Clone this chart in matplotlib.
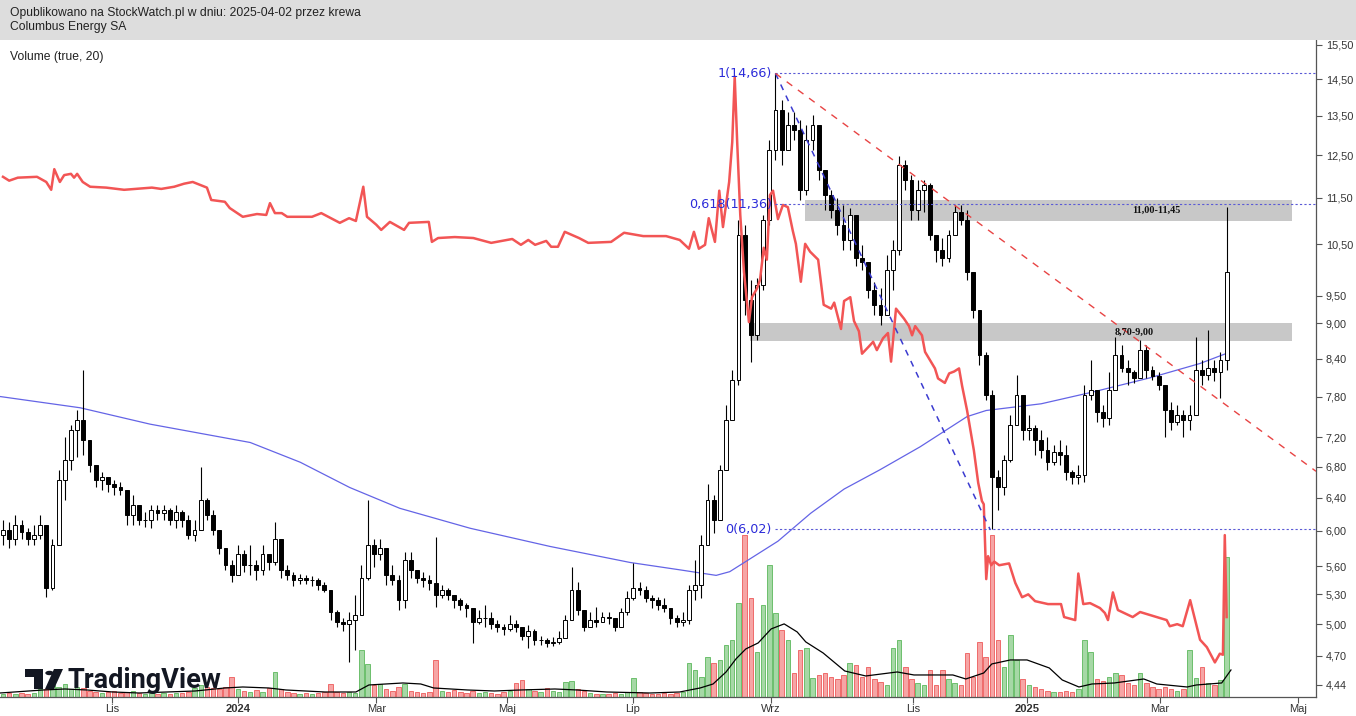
import numpy as np
import matplotlib
matplotlib.use("Agg")
import matplotlib.pyplot as plt
from matplotlib.patches import Rectangle, Polygon, Circle
from matplotlib.ticker import NullLocator

plt.rcParams['font.family'] = ['Liberation Sans', 'DejaVu Sans']

# Columbus Energy SA, two-session bars, mid Sep 2023 .. 2 Apr 2025
first_open = 5.95
close = [6.01, 5.90, 6.07, 5.99, 5.90, 5.95, 6.07, 5.37, 5.84, 6.63,
         6.89, 7.31, 7.45, 7.17, 6.82, 6.63, 6.66, 6.57, 6.53, 6.50,
         6.19, 6.31, 6.13, 6.13, 6.25, 6.21, 6.25, 6.13, 6.23, 6.13,
         5.95, 6.01, 6.37, 6.19, 6.01, 5.80, 5.61, 5.50, 5.73, 5.61,
         5.61, 5.56, 5.73, 5.65, 5.90, 5.56, 5.50, 5.45, 5.47, 5.45,
         5.45, 5.40, 5.35, 5.12, 5.02, 5.00, 5.04, 5.09, 5.47, 5.84,
         5.73, 5.80, 5.50, 5.45, 5.24, 5.67, 5.56, 5.47, 5.45, 5.42,
         5.29, 5.35, 5.29, 5.24, 5.19, 5.16, 5.02, 5.06, 5.06, 5.00,
         4.97, 4.95, 5.00, 4.97, 4.89, 4.93, 4.85, 4.85, 4.82, 4.83,
         4.87, 5.04, 5.35, 5.14, 4.97, 5.04, 5.02, 5.07, 5.06, 4.97,
         5.12, 5.26, 5.37, 5.35, 5.26, 5.24, 5.19, 5.16, 5.06, 5.02,
         5.04, 5.35, 5.40, 5.84, 6.37, 6.13, 6.76, 7.45, 8.06, 10.69,
         9.42, 8.80, 9.70, 11.01, 12.63, 13.65, 12.63, 13.26, 13.13, 11.68,
         12.87, 13.26, 12.14, 11.56, 11.23, 10.90, 10.59, 11.12, 10.23, 10.15,
         9.61, 9.33, 9.15, 9.99, 10.39, 12.26, 11.91, 11.23, 11.68, 11.79,
         10.69, 10.39, 10.23, 10.69, 11.18, 11.01, 9.95, 9.24, 8.46, 7.83,
         6.66, 6.53, 6.89, 7.38, 7.83, 7.31, 7.34, 7.17, 7.03, 6.86,
         7.00, 6.96, 6.73, 6.66, 6.69, 7.83, 7.90, 7.57, 7.48, 7.90,
         8.46, 8.25, 8.19, 8.09, 8.54, 8.22, 8.12, 7.98, 7.60, 7.42,
         7.53, 7.45, 7.53, 8.22, 8.14, 8.25, 8.19, 8.38, 9.95]
high = [6.13, 6.11, 6.19, 6.13, 6.03, 6.07, 6.19, 5.84, 5.90, 6.76,
        7.21, 7.38, 7.60, 8.22, 7.03, 6.76, 6.73, 6.66, 6.63, 6.60,
        6.50, 6.44, 6.31, 6.23, 6.31, 6.31, 6.31, 6.27, 6.31, 6.25,
        6.19, 6.13, 6.80, 6.40, 6.25, 6.01, 5.78, 5.67, 5.84, 5.78,
        5.84, 5.67, 5.84, 5.73, 6.11, 5.73, 5.61, 5.54, 5.52, 5.50,
        5.49, 5.47, 5.43, 5.35, 5.14, 5.06, 5.12, 5.29, 5.61, 6.37,
        5.90, 5.90, 5.73, 5.61, 5.50, 5.76, 5.76, 5.56, 5.54, 5.50,
        5.93, 5.40, 5.37, 5.29, 5.26, 5.21, 5.12, 5.14, 5.19, 5.12,
        5.04, 5.00, 5.09, 5.04, 4.97, 4.99, 4.95, 4.89, 4.87, 4.88,
        4.93, 5.09, 5.59, 5.43, 5.14, 5.12, 5.17, 5.12, 5.12, 5.04,
        5.16, 5.33, 5.63, 5.43, 5.39, 5.29, 5.27, 5.26, 5.14, 5.09,
        5.12, 5.40, 5.67, 5.95, 6.57, 6.44, 6.82, 7.67, 8.22, 11.01,
        10.90, 9.80, 9.84, 11.12, 12.87, 14.66, 13.92, 13.60, 13.60, 13.39,
        13.26, 13.52, 13.13, 12.14, 11.68, 11.50, 11.34, 11.27, 10.74, 10.49,
        10.15, 9.76, 9.65, 10.29, 10.59, 12.48, 12.38, 12.02, 11.91, 11.91,
        11.84, 10.59, 10.63, 10.80, 11.34, 11.34, 11.23, 9.61, 9.15, 8.51,
        7.90, 6.76, 6.96, 7.53, 8.14, 7.60, 7.53, 7.38, 7.31, 7.20,
        7.10, 7.17, 7.10, 6.76, 6.82, 7.98, 8.38, 7.83, 7.67, 8.19,
        8.76, 8.63, 8.38, 8.22, 8.71, 8.63, 8.28, 8.19, 7.98, 7.71,
        7.67, 7.60, 7.67, 8.76, 8.38, 8.88, 8.38, 8.51, 11.30]
low = [5.84, 5.80, 5.84, 5.90, 5.84, 5.84, 5.90, 5.27, 5.35, 5.84,
       6.37, 6.76, 6.93, 6.96, 6.73, 6.54, 6.50, 6.47, 6.44, 6.44,
       6.07, 6.07, 6.07, 6.05, 6.03, 6.13, 6.13, 6.07, 6.03, 6.05,
       5.90, 5.88, 6.01, 6.13, 5.95, 5.73, 5.56, 5.43, 5.56, 5.54,
       5.50, 5.45, 5.50, 5.56, 5.61, 5.47, 5.45, 5.39, 5.41, 5.41,
       5.39, 5.35, 5.32, 5.04, 4.97, 4.93, 4.64, 4.75, 5.32, 5.45,
       5.59, 5.67, 5.40, 5.40, 5.14, 5.16, 5.47, 5.42, 5.38, 5.35,
       5.17, 5.26, 5.24, 5.16, 5.14, 5.07, 4.82, 5.00, 4.97, 4.95,
       4.92, 4.90, 4.93, 4.92, 4.85, 4.77, 4.80, 4.80, 4.78, 4.79,
       4.81, 4.90, 5.06, 5.09, 4.93, 4.97, 4.97, 5.02, 5.00, 4.93,
       4.97, 5.09, 5.24, 5.29, 5.22, 5.16, 5.14, 5.12, 5.00, 4.97,
       4.98, 5.00, 5.24, 5.26, 5.84, 5.98, 6.13, 6.76, 7.45, 7.98,
       9.15, 8.35, 8.71, 9.61, 10.90, 12.38, 12.26, 12.63, 12.87, 11.45,
       11.56, 12.63, 11.91, 11.23, 11.05, 10.69, 10.39, 10.39, 10.07, 9.99,
       9.46, 9.15, 8.97, 9.15, 9.61, 10.29, 11.68, 11.01, 11.01, 11.18,
       10.59, 10.15, 10.07, 10.15, 10.76, 10.90, 9.80, 9.10, 8.30, 7.75,
       6.02, 6.25, 6.44, 6.86, 7.38, 7.17, 7.17, 6.96, 6.92, 6.76,
       6.82, 6.82, 6.63, 6.57, 6.58, 6.60, 7.75, 7.42, 7.35, 7.38,
       7.90, 8.19, 7.98, 8.01, 8.09, 8.09, 8.06, 7.90, 7.21, 7.31,
       7.38, 7.21, 7.31, 7.60, 7.98, 8.06, 8.04, 7.78, 8.22]
volume = [3, 4, 3, 4, 3, 4, 8, 8, 12, 10,
          13, 8, 10, 9, 6, 5, 4, 5, 6, 4,
          5, 6, 4, 3, 4, 3, 4, 3, 4, 4,
          5, 9, 12, 10, 9, 8, 10, 20, 8, 6,
          5, 7, 5, 9, 25, 8, 5, 4, 3, 4,
          3, 4, 5, 13, 5, 4, 5, 4, 47, 33,
          12, 13, 8, 6, 10, 13, 6, 5, 4, 5,
          37, 6, 5, 7, 5, 4, 6, 4, 5, 4,
          3, 5, 6, 14, 17, 8, 6, 5, 9, 6,
          5, 15, 16, 8, 6, 4, 3, 3, 3, 4,
          3, 5, 19, 5, 4, 3, 3, 4, 3, 4,
          5, 34, 27, 20, 40, 34, 37, 52, 57, 94,
          162, 99, 45, 92, 132, 84, 67, 57, 24, 47,
          49, 19, 22, 24, 20, 18, 22, 34, 32, 20,
          30, 18, 15, 12, 49, 57, 30, 18, 14, 12,
          27, 12, 27, 18, 14, 12, 44, 20, 55, 40,
          162, 57, 30, 62, 37, 18, 12, 10, 8, 6,
          5, 5, 6, 5, 8, 57, 45, 18, 16, 20,
          24, 22, 14, 12, 24, 14, 10, 8, 10, 8,
          6, 8, 47, 19, 30, 14, 12, 17, 140]

# blue long moving average
ma_x = [-0.5, 12.5, 23.8, 40.0, 48.1, 56.1, 64.2, 75.6, 88.5, 101.5, 109.5, 115.4, 117.6,
        125.4, 130.7, 136.1, 141.9, 148.4, 156.0, 159.1, 168.0, 176.4, 185.6, 193.7, 198.1]
ma_y = [7.80, 7.63, 7.39, 7.13, 6.86, 6.53, 6.27, 6.03, 5.82, 5.64, 5.56, 5.50, 5.54,
        5.88, 6.21, 6.51, 6.76, 7.07, 7.50, 7.59, 7.69, 7.87, 8.09, 8.32, 8.49]

# red overlay line
red_x = [0, 1.0, 2.4, 5.5, 7.0, 7.8, 8.3, 9.2, 9.9, 11.0,
         11.5, 12.0, 12.9, 14.1, 16.7, 19.6, 24.1, 25.6, 27.7, 29.3,
         30.7, 33.0, 33.7, 35.9, 36.7, 38.8, 41.1, 42.6, 43.2, 44.0,
         45.1, 46.0, 50.0, 51.5, 54.5, 56.0, 57.1, 58.3, 58.9, 60.4,
         61.2, 62.6, 64.1, 64.9, 65.7, 68.9, 69.4, 70.4, 73.1, 76.1,
         79.0, 82.4, 83.8, 85.0, 86.1, 87.9, 88.7, 89.8, 90.9, 93.2,
         94.7, 98.4, 100.5, 103.6, 107.3, 109.5, 111.0, 111.8, 112.6, 113.6,
         114.2, 115.2, 115.9, 116.5, 117.5, 118.0, 118.4, 118.8, 119.3, 119.9,
         120.7, 121.2, 122.0, 122.5, 123.1, 123.6, 124.1, 124.6, 125.4, 126.2,
         127.0, 127.8, 128.3, 129.1, 129.8, 130.6, 131.9, 132.8, 134.0, 134.5,
         135.6, 136.1, 137.1, 137.7, 138.5, 139.0, 140.1, 140.8, 141.4, 142.4,
         143.2, 143.7, 144.5, 145.8, 146.6, 147.1, 147.6, 148.7, 149.2, 150.8,
         151.3, 152.4, 153.1, 153.9, 154.7, 155.2, 156.0, 157.1, 157.8, 158.4,
         158.7, 159.1, 159.4, 159.9, 160.4, 161.2, 162.8, 163.8, 164.9, 165.9,
         167.0, 169.1, 171.2, 171.7, 173.5, 174.0, 174.8, 175.9, 177.5, 178.3,
         178.8, 179.6, 180.4, 182.8, 184.0, 186.7, 188.3, 188.8, 190.0, 190.9,
         192.1, 192.9, 193.7, 194.8, 196.1, 196.9, 197.4, 197.7, 198.0]
red_y = [11.98, 11.89, 11.96, 11.98, 11.86, 11.68, 12.16, 11.86, 12.02, 12.05,
         11.96, 12.05, 11.86, 11.75, 11.73, 11.68, 11.73, 11.70, 11.75, 11.82,
         11.86, 11.73, 11.45, 11.41, 11.27, 11.08, 11.14, 11.12, 11.38, 11.16,
         11.16, 11.08, 11.08, 11.16, 10.95, 11.05, 10.99, 11.75, 11.08, 10.91,
         10.80, 10.97, 10.86, 10.80, 10.95, 10.97, 10.55, 10.63, 10.65, 10.63,
         10.53, 10.61, 10.49, 10.59, 10.49, 10.57, 10.45, 10.45, 10.76, 10.63,
         10.53, 10.55, 10.74, 10.67, 10.67, 10.59, 10.41, 10.76, 10.41, 10.49,
         11.05, 10.55, 11.66, 10.86, 11.86, 12.82, 14.57, 12.82, 11.12, 9.95,
         9.02, 9.47, 9.63, 9.80, 10.43, 10.19, 11.56, 11.66, 11.03, 11.34,
         11.29, 10.78, 10.51, 9.76, 10.51, 10.35, 10.19, 9.33, 9.26, 9.37,
         8.90, 9.40, 9.47, 9.04, 8.86, 8.48, 8.60, 8.68, 8.54, 8.74,
         8.83, 8.35, 9.26, 9.08, 8.95, 8.79, 8.95, 8.79, 8.51, 8.24,
         8.08, 8.01, 8.16, 8.19, 8.24, 7.96, 7.59, 7.02, 6.59, 6.36,
         6.32, 5.46, 5.71, 5.61, 5.65, 5.61, 5.63, 5.42, 5.27, 5.30,
         5.23, 5.20, 5.20, 5.07, 5.04, 5.52, 5.20, 5.21, 5.16, 5.11,
         5.04, 5.32, 5.14, 5.07, 5.12, 5.07, 5.04, 4.98, 5.00, 4.98,
         5.24, 5.04, 4.85, 4.78, 4.64, 4.72, 4.71, 5.95, 5.07]

# Volume (true, 20) average line
vma_x = [-0.5, 6.5, 10.0, 13.6, 17.8, 22.0, 31.1, 35.9, 38.8, 43.0,
         45.8, 52.1, 57.1, 59.2, 64.7, 67.6, 69.7, 75.2, 79.5, 83.7,
         89.3, 92.9, 97.7, 104.7, 109.5, 112.8, 114.9, 117.0, 118.6, 120.2,
         122.2, 124.3, 126.4, 128.5, 129.9, 132.7, 136.2, 139.6, 144.7, 147.4,
         153.7, 155.8, 158.7, 160.0, 163.0, 165.7, 169.3, 171.4, 174.1, 176.2,
         179.8, 184.6, 186.7, 191.6, 193.1, 197.2, 198.7]
vma_y = [4, 7, 8, 7, 5, 4, 6, 9, 10, 9,
         7, 5, 5, 12, 14, 13, 9, 7, 6, 7,
         8, 7, 5, 4, 5, 9, 13, 25, 38, 48,
         54, 68, 73, 65, 55, 44, 26, 21, 25, 22,
         22, 18, 24, 33, 37, 37, 29, 17, 10, 13,
         14, 18, 13, 10, 12, 14, 27]

price_ticks = [15.5, 14.5, 13.5, 12.5, 11.5, 10.5, 9.5, 9.0, 8.4, 7.8,
               7.2, 6.8, 6.4, 6.0, 5.6, 5.3, 5.0, 4.7, 4.44]
month_pos = [17.6, 38.1, 60.4, 81.5, 101.9, 124.3, 147.2, 165.7, 187.2, 209.5]
month_lbl = ['Lis', '2024', 'Mar', 'Maj', 'Lip', 'Wrz', 'Lis', '2025', 'Mar', 'Maj']

fib_levels = [14.66, 11.36, 6.02]
fib_labels = ['1(14,66)', '0,618(11,36)', '0(6,02)']
fib_start, fib_end = 125, 159.7
trend_x = [125, 212.46]
trend_y = [14.66, 6.74]
zone_lo = [11.00, 8.70]
zone_hi = [11.45, 9.00]
zone_from = [129.8, 120.9]
zone_to = 208.6
zone_text = ['11,00-11,45', '8,70-9,00']
zone_text_x = [186.7, 183.0]

W, H = 1356, 716
fig = plt.figure(figsize=(W / 100, H / 100), dpi=100)
pos = [0, 19 / H, 1316 / W, 657 / H]
xlim = (-0.485, 212.46)

# header band
fig.add_artist(Rectangle((0, 1 - 40 / H), 1, 40 / H, transform=fig.transFigure,
                         facecolor='#dddddd', edgecolor='none'))
fig.text(10 / W, 1 - 13 / H, 'Opublikowano na StockWatch.pl w dniu: 2025-04-02 przez krewa',
         fontsize=8.7, va='center', color='#222222')
fig.text(10 / W, 1 - 27 / H, 'Columbus Energy SA', fontsize=8.7, va='center', color='#222222')

# volume pane (behind)
axv = fig.add_axes(pos)
x = np.arange(len(close))
c = np.array(close)
o = np.r_[first_open, c[:-1]]
h = np.maximum(np.array(high), np.maximum(o, c))
l = np.minimum(np.array(low), np.minimum(o, c))
v = np.array(volume)
up = c >= o
axv.bar(x[up], v[up], width=0.72, facecolor='#a6d8a6', edgecolor='#5cb85c', lw=0.6)
axv.bar(x[~up], v[~up], width=0.72, facecolor='#f6a5a5', edgecolor='#ee5a5a', lw=0.6)
axv.plot(vma_x, vma_y, color='black', lw=0.9)
axv.set_xlim(*xlim)
axv.set_ylim(0, max(volume) * 4.05)
axv.set_axis_off()

# price pane
ax = fig.add_axes(pos)
ax.patch.set_visible(False)
ax.set_yscale('log')

for lo_, hi_, xf in zip(zone_lo, zone_hi, zone_from):
    ax.add_patch(Rectangle((xf, lo_), zone_to - xf, hi_ - lo_, facecolor='#c8c8c8',
                           edgecolor='none', zorder=1))

ax.plot(ma_x, ma_y, color='#6464e6', lw=0.9, zorder=2)

ax.vlines(x, l, h, color='black', lw=0.8, zorder=3)
ax.bar(x[up], (c - o)[up], bottom=o[up], width=0.62, facecolor='white',
       edgecolor='black', lw=0.7, zorder=4)
ax.bar(x[~up], (o - c)[~up], bottom=c[~up], width=0.62, facecolor='black',
       edgecolor='black', lw=0.7, zorder=4)

ax.plot(red_x, red_y, color='#f25555', lw=1.8, zorder=5, solid_joinstyle='round')

for lev, lab in zip(fib_levels, fib_labels):
    ax.hlines(lev, fib_start, xlim[1], colors='#5a5ad6', linestyles=(0, (2, 2)), lw=0.8, zorder=6)
    ax.text(fib_start - 0.6, lev, lab, ha='right', va='center', color='#2b2bd9',
            fontsize=9.2, family='DejaVu Sans', zorder=7)
ax.plot([fib_start, fib_end], [fib_levels[0], fib_levels[2]], color='#3b3bd0',
        ls=(0, (4, 4)), lw=1.1, zorder=6)
ax.plot(trend_x, trend_y, color='#e84444', ls=(0, (5, 5)), lw=1.0, zorder=6)

for lo_, hi_, t, tx in zip(zone_lo, zone_hi, zone_text, zone_text_x):
    ax.text(tx, (lo_ * hi_) ** 0.5, t, ha='center', va='center', fontsize=7.3,
            family='Liberation Serif', fontweight='bold', color='#111111', zorder=7)

ax.set_xlim(*xlim)
ax.set_ylim(4.337, 15.65)
ax.yaxis.tick_right()
ax.set_yticks(price_ticks)
ax.set_yticklabels([f'{p:.2f}'.replace('.', ',') for p in price_ticks])
ax.yaxis.set_minor_locator(NullLocator())
ax.set_xticks(month_pos)
ax.set_xticklabels(month_lbl)
ax.xaxis.set_minor_locator(NullLocator())
for t in ax.get_xticklabels():
    if t.get_text().isdigit():
        t.set_fontweight('bold')
ax.tick_params(axis='y', length=4, width=0.8, color='#555555', labelsize=7.8,
               labelcolor='#333333', pad=3)
ax.tick_params(axis='x', length=4, width=0.8, color='#555555', labelsize=8,
               labelcolor='#333333', pad=1)
for sp in ['left', 'top']:
    ax.spines[sp].set_visible(False)
for sp in ['right', 'bottom']:
    ax.spines[sp].set_color('#555555')
    ax.spines[sp].set_linewidth(0.9)

fig.text(10 / W, 1 - 57 / H, 'Volume (true, 20)', fontsize=8.7, va='center', color='#222222')


# TradingView watermark
def fp(px, py):
    return (px / W, 1 - py / H)


logo_col = '#131722'
fig.add_artist(Polygon([fp(25, 669), fp(43, 669), fp(43, 689), fp(34, 689), fp(34, 677), fp(25, 677)],
                       closed=True, transform=fig.transFigure, facecolor=logo_col, edgecolor='none'))
fig.add_artist(Circle(fp(49.5, 673), 4.2 / W, transform=fig.transFigure, facecolor=logo_col,
                      edgecolor='none'))
fig.add_artist(Polygon([fp(45, 689), fp(54, 689), fp(63, 669), fp(54, 669)], closed=True,
                       transform=fig.transFigure, facecolor=logo_col, edgecolor='none'))
fig.text(67 / W, 1 - 688 / H, 'TradingView', fontsize=19.5, family='Roboto', fontweight='bold',
         color=logo_col, va='baseline', ha='left')

fig.savefig('out.png', dpi=100)
